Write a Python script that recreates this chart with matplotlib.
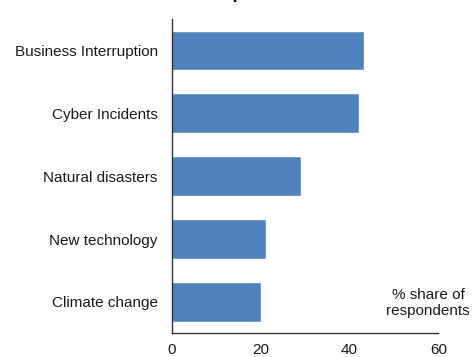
import matplotlib
matplotlib.use("Agg")
import matplotlib.pyplot as plt

categories = ["Business Interruption", "Cyber Incidents", "Natural disasters",
              "New technology", "Climate change"]
values = [43, 42, 29, 21, 20]
x_ticks = [0, 20, 40, 60]

plt.rcParams["font.family"] = ["Liberation Sans", "DejaVu Sans"]

fig = plt.figure(figsize=(4.72, 3.57), dpi=100)
ax = fig.add_axes([0.3634, 0.0664, 0.5652, 0.8804])

ypos = list(range(len(categories)))[::-1]
ax.barh(ypos, values, height=0.6, color="#4F81BD", edgecolor="#6F97CB", linewidth=0.6)

ax.set_xlim(0, 60)
ax.set_ylim(-0.5, len(categories) - 0.5)
ax.set_yticks(ypos)
ax.set_yticklabels(categories, fontsize=11, color="#1a1a1a")
ax.set_xticks(x_ticks)
ax.set_xticklabels([str(t) for t in x_ticks], fontsize=11, color="#1a1a1a")
ax.tick_params(axis="y", length=0, pad=10)
ax.tick_params(axis="x", length=0, pad=7)

for side in ("top", "right"):
    ax.spines[side].set_visible(False)
for side in ("left", "bottom"):
    ax.spines[side].set_color("#333333")
    ax.spines[side].set_linewidth(1.0)

fig.text(428 / 472, 1 - 303 / 357, "% share of\nrespondents", ha="center", va="center",
         fontsize=11, color="#1a1a1a", linespacing=1.1)

fig.text(210 / 472, 1 + 1.5 / 357, "Top risks", ha="left", va="baseline",
         fontsize=14, fontweight="bold", color="#111111")

fig.savefig("out.png", dpi=100)
